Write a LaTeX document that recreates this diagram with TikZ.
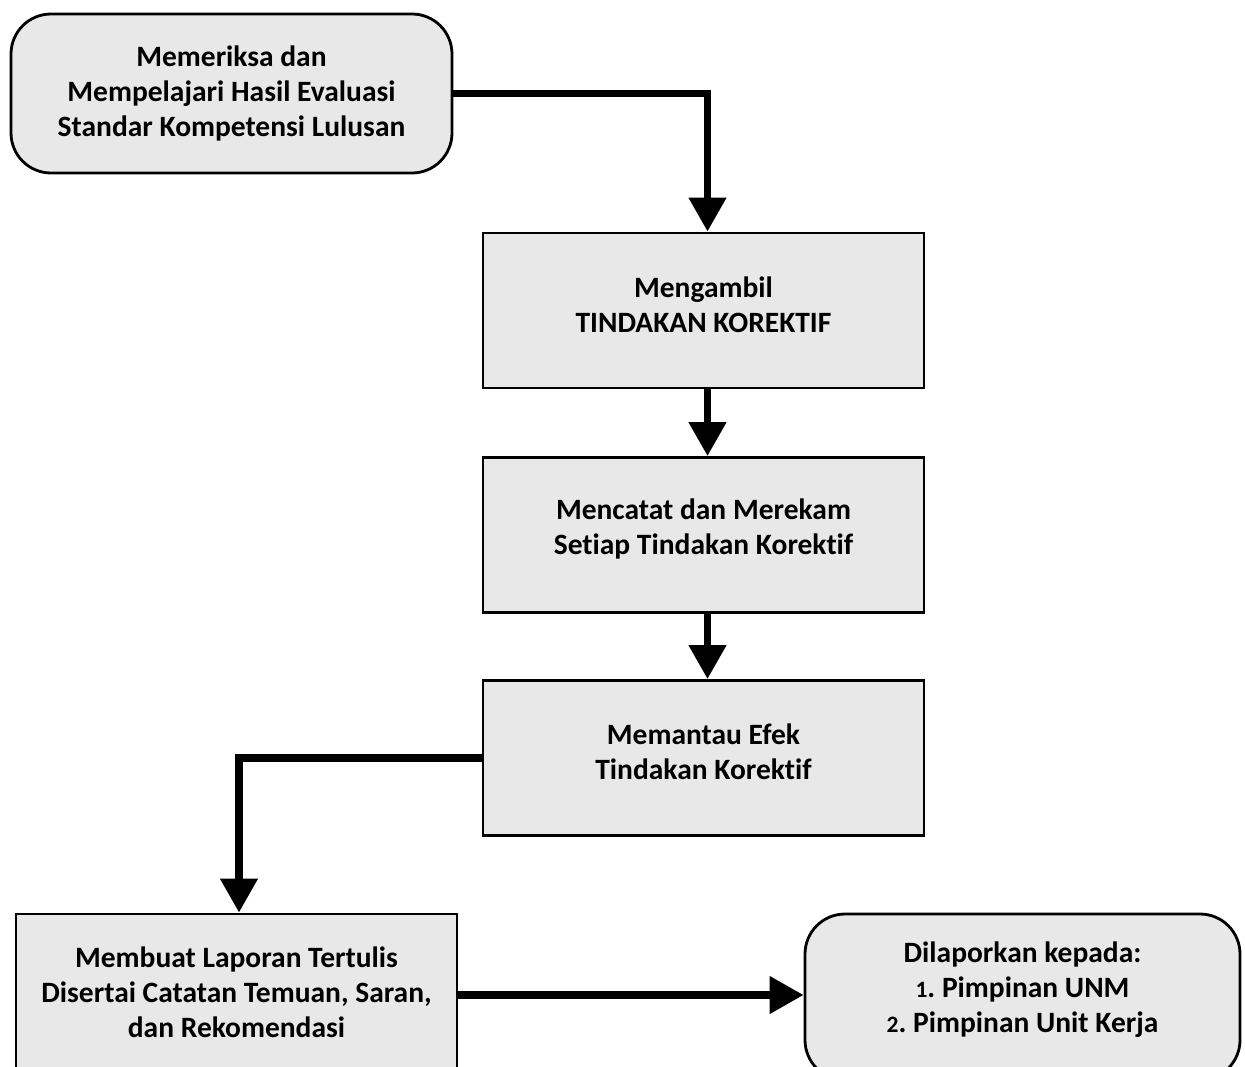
\documentclass[tikz,border=0pt]{standalone}
\usepackage{fontspec}
\setmainfont{Carlito}[RawFeature={-liga}]
\usetikzlibrary{arrows.meta,positioning}
\definecolor{boxgray}{RGB}{232,232,232}
\newcommand{\olddig}[1]{{\fontsize{23.5}{35}\selectfont #1}}
\tikzset{
  basebox/.style={draw=black, line width=2.8pt, fill=boxgray, inner sep=0pt},
  sqbox/.style={basebox, rectangle, minimum width=441pt, minimum height=155pt},
  rndbox/.style={basebox, rectangle, rounded corners=40pt},
  boxtext/.style={align=center, inner sep=0pt,
    font=\bfseries\frenchspacing\fontsize{29.5}{35}\selectfont},
  flow/.style={line width=7.5pt, -{Triangle[length=34pt,width=36pt]}}
}
\begin{document}
\begin{tikzpicture}[x=1pt,y=-1pt]
\useasboundingbox (0,0) rectangle (1245,1066);
\clip (0,0) rectangle (1245,1066);
\fill[white] (0,0) rectangle (1245,1066);
\node[rndbox, minimum width=441pt, minimum height=159pt] (b1) at (231.5,93.5) {};
\node[sqbox] (b2) at (703.5,310.5) {};
\node[sqbox] (b3) at (703.5,535) {};
\node[sqbox] (b4) at (703.5,758) {};
\node[sqbox, minimum height=162pt] (b5) at (236.5,995) {};
\node[rndbox, minimum width=435pt, minimum height=166pt] (b6) at (1022.5,997) {};
\node[boxtext] (t1) at ([yshift=0pt]b1.center)
  {Memeriksa dan\\Mempelajari Hasil Evaluasi\\Standar Kompetensi Lulusan};
\node[boxtext] (t2) at ([yshift=6pt]b2.center) {Mengambil\\TINDAKAN KOREKTIF};
\node[boxtext] (t3) at ([yshift=6pt]b3.center) {Mencatat dan Merekam\\Setiap Tindakan Korektif};
\node[boxtext] (t4) at ([yshift=6pt]b4.center) {Memantau Efek\\Tindakan Korektif};
\node[boxtext] (t5) at ([yshift=3pt]b5.center)
  {Membuat Laporan Tertulis\\Disertai Catatan Temuan, Saran,\\dan Rekomendasi};
\node[boxtext] (t6) at ([yshift=7pt]b6.center)
  {Dilaporkan kepada:\\\olddig{1}. Pimpinan UNM\\\olddig{2}. Pimpinan Unit Kerja};
\draw[flow] (b1.east) -| ([xshift=4pt]b2.north);
\draw[flow] ([xshift=4pt]b2.south) -- ([xshift=4pt]b3.north);
\draw[flow] ([xshift=4pt]b3.south) -- ([xshift=4pt]b4.north);
\draw[flow] (b4.west) -| ([xshift=2.5pt]b5.north);
\draw[flow] (b5.east) -- (b5.east -| b6.west);
\end{tikzpicture}
\end{document}
